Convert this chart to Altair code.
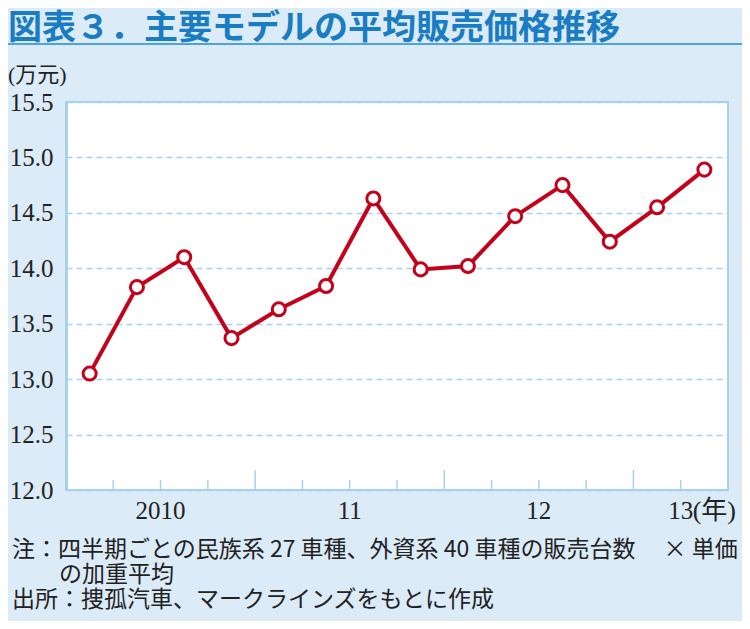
import altair as alt
import pandas as pd

# ---- data ----
years = [2010, 2010, 2010, 2010, 2011, 2011, 2011, 2011,
         2012, 2012, 2012, 2012, 2013, 2013]
quarters = [1, 2, 3, 4, 1, 2, 3, 4, 1, 2, 3, 4, 1, 2]
price = [13.05, 13.83, 14.10, 13.37, 13.63, 13.84, 14.63,
         13.99, 14.02, 14.47, 14.75, 14.24, 14.55, 14.89]
year_labels = ["2010", "11", "12", "13"]
y_ticks = [12.0, 12.5, 13.0, 13.5, 14.0, 14.5, 15.0, 15.5]

title_text = "図表３．主要モデルの平均販売価格推移"
unit_text = "(万元)"
x_unit_text = "(年)"
note1 = "注：四半期ごとの民族系 27 車種、外資系 40 車種の販売台数　 × 単価"
note2 = "の加重平均"
note3 = "出所：捜孤汽車、マークラインズをもとに作成"

# ---- derived tables ----
df = pd.DataFrame({"year": years, "q": quarters, "price": price})
df["pos"] = df.index + 0.5

ticks = pd.DataFrame({"pos": list(range(1, len(years)))})
ticks["tall"] = [years[i] != years[i - 1] for i in ticks["pos"]]

uy = sorted(set(years))
lab_pos = []
for yv in uy:
    idx = [i for i, v in enumerate(years) if v == yv]
    lab_pos.append((idx[0] + idx[-1] + 1) / 2)
labels = pd.DataFrame({"pos": lab_pos, "label": year_labels})

W, H = 662, 388
BLUE_LINE = "#a9d0ef"
RED = "#c4001a"
SERIF = "Liberation Serif, Noto Sans CJK JP"
CJK = "Noto Sans CJK JP"

xsc = alt.Scale(domain=[0, len(years)], nice=False, zero=False)
ysc = alt.Scale(domain=[12.0, 15.5], nice=False, zero=False)

base = alt.Chart(df)

line = base.mark_line(color=RED, strokeWidth=4).encode(
    x=alt.X("pos:Q", scale=xsc, axis=None),
    y=alt.Y("price:Q", scale=ysc, axis=alt.Axis(
        values=y_ticks, format=".1f", title=None, ticks=False,
        labelFont="Liberation Serif", labelFontSize=25, labelColor="#222222",
        labelPadding=13, domain=True, domainColor=BLUE_LINE, domainWidth=3,
        grid=True, gridColor="#a5d2f4", gridDash=[6, 4], gridWidth=1.5,
        labelBaseline="middle",
    )),
)
points = base.mark_point(filled=True, fill="white", stroke=RED, strokeWidth=3,
                         size=170, opacity=1).encode(
    x=alt.X("pos:Q", scale=xsc),
    y=alt.Y("price:Q", scale=ysc),
)

short_ticks = alt.Chart(ticks).transform_filter("!datum.tall").mark_rule(
    color=BLUE_LINE, strokeWidth=1.5).encode(
    x=alt.X("pos:Q", scale=xsc),
    y=alt.value(H),
    y2=alt.value(H - 10),
)
tall_ticks = alt.Chart(ticks).transform_filter("datum.tall").mark_rule(
    color=BLUE_LINE, strokeWidth=1.5).encode(
    x=alt.X("pos:Q", scale=xsc),
    y=alt.value(H),
    y2=alt.value(H - 20),
)

xlabels = alt.Chart(labels).mark_text(
    font="Liberation Serif", fontSize=25, color="#222222", baseline="middle", align="center"
).encode(
    x=alt.X("pos:Q", scale=xsc),
    y=alt.value(H + 21),
    text="label:N",
)
xunit = alt.Chart(labels.tail(1).assign(u=x_unit_text)).mark_text(
    font=SERIF, fontSize=26, color="#222222", baseline="middle", align="left", dx=12
).encode(
    x=alt.X("pos:Q", scale=xsc),
    y=alt.value(H + 21),
    text="u:N",
)


def txt(t, x, y, size, color="#222222", weight="normal", font=CJK):
    return alt.Chart(pd.DataFrame({"t": [t]})).mark_text(
        font=font, fontSize=size, color=color, fontWeight=weight,
        align="left", baseline="middle"
    ).encode(x=alt.value(x), y=alt.value(y), text="t:N")


title = txt(title_text, -58, -73, 34, color="#1a7cc2", weight="bold")
underline = alt.Chart(pd.DataFrame({"a": [0]})).mark_rule(
    color="#4ea3de", strokeWidth=2
).encode(x=alt.value(-61), x2=alt.value(679), y=alt.value(-58))
unit = txt(unit_text, -58, -27, 22, font=SERIF)
n1 = txt(note1, -54, 448, 23)
n2 = txt(note2, -7, 473, 23)
n3 = txt(note3, -54, 498, 23)

chart = alt.layer(
    line, short_ticks, tall_ticks, points, xlabels, xunit,
    title, underline, unit, n1, n2, n3,
).properties(
    width=W, height=H,
    autosize=alt.AutoSizeParams(type="none"),
    padding={"left": 58, "top": 94, "right": 14, "bottom": 131},
    background="#dbebf8",
).configure_view(
    fill="white", stroke=BLUE_LINE, strokeWidth=2,
)

chart.save("out.html", embed_options={"renderer": "svg", "actions": False})
